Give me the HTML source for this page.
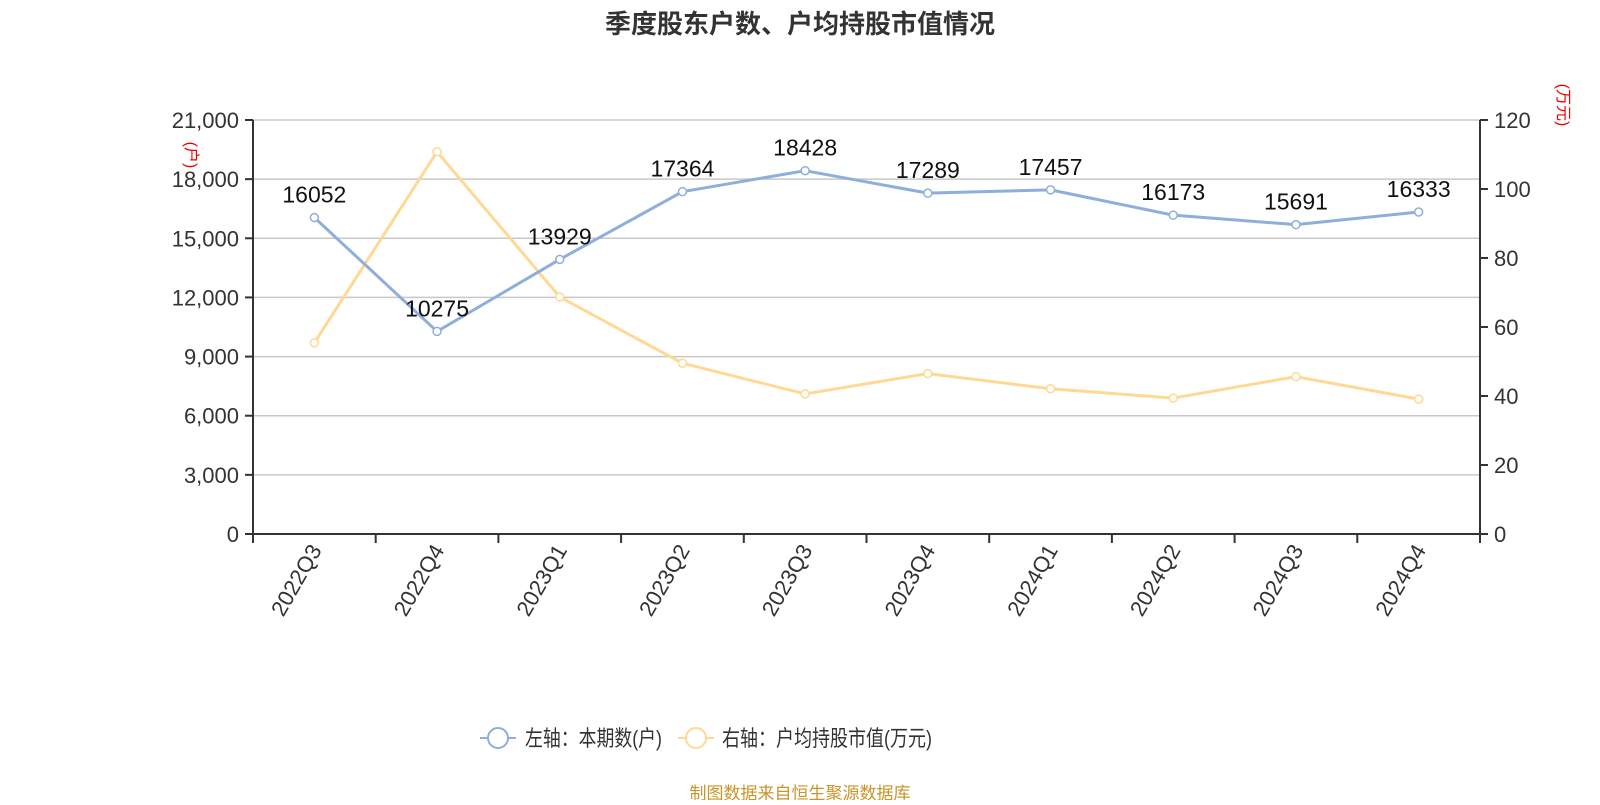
<!DOCTYPE html>
<html><head><meta charset="utf-8"><style>
body{margin:0;background:#fff;}
svg text{font-family:"Liberation Sans","Noto Sans CJK SC",sans-serif;}
</style></head><body>
<svg id="chart" width="1600" height="800" xmlns="http://www.w3.org/2000/svg">
<text x="800" y="33" text-anchor="middle" font-size="26" font-weight="bold" fill="#333">季度股东户数、户均持股市值情况</text>
<g id="grid"></g><g id="axes"></g><g id="series"></g>
<text transform="translate(186,155) rotate(90)" text-anchor="middle" font-size="16" fill="#e00">(户)</text>
<text transform="translate(1558,105) rotate(90)" text-anchor="middle" font-size="16" fill="#e00">(万元)</text>
<g>
<g>
<line x1="480" y1="738" x2="516" y2="738" stroke="#8eaedb" stroke-width="2"/><circle cx="498" cy="738" r="10" fill="#fff" stroke="#8eaedb" stroke-width="2"/>
<text x="525" y="746" font-size="22" fill="#333" textLength="137" lengthAdjust="spacingAndGlyphs">左轴：本期数(户)</text></g>
<g>
<line x1="678" y1="738" x2="714" y2="738" stroke="#ffd994" stroke-width="2"/><circle cx="696" cy="738" r="10" fill="#fff" stroke="#ffd994" stroke-width="2"/>
<text x="722" y="746" font-size="22" fill="#333" textLength="210" lengthAdjust="spacingAndGlyphs">右轴：户均持股市值(万元)</text></g>
</g>
<text x="800" y="799" text-anchor="middle" font-size="17" fill="#c8952a">制图数据来自恒生聚源数据库</text>
</svg>
<script>
const categories=["2022Q3","2022Q4","2023Q1","2023Q2","2023Q3","2023Q4","2024Q1","2024Q2","2024Q3","2024Q4"];
const holders=[16052,10275,13929,17364,18428,17289,17457,16173,15691,16333];
const avgValue=[55.4,110.8,68.7,49.5,40.6,46.5,42.1,39.4,45.6,39.1];
const leftTicks=[0,3000,6000,9000,12000,15000,18000,21000];
const rightTicks=[0,20,40,60,80,100,120];
const NS="http://www.w3.org/2000/svg";
const X0=253,X1=1480,Y0=534,Y1=120;
const band=(X1-X0)/categories.length;
const xPos=i=>X0+band*(i+0.5);
const yL=v=>Y0-(v/21000)*(Y0-Y1);
const yR=v=>Y0-(v/120)*(Y0-Y1);
function mk(tag,attrs,parent,txt){const e=document.createElementNS(NS,tag);for(const k in attrs)e.setAttribute(k,attrs[k]);if(txt!==undefined)e.textContent=txt;parent.appendChild(e);return e;}
const grid=document.getElementById('grid'),axes=document.getElementById('axes'),series=document.getElementById('series');
leftTicks.forEach(t=>{const y=yL(t);
 if(t>0){const g=mk('line',{x1:X0,x2:X1,y1:y,y2:y,stroke:'#c8c8c8','stroke-width':1.5},grid);}
 mk('line',{x1:X0-8,x2:X0,y1:y,y2:y,stroke:'#333','stroke-width':2},axes);
 const l=mk('text',{x:X0-14,y:y+8,'text-anchor':'end','font-size':22,fill:'#333'},axes,t.toLocaleString('en-US'));
 });
rightTicks.forEach(t=>{const y=yR(t);
 mk('line',{x1:X1,x2:X1+8,y1:y,y2:y,stroke:'#333','stroke-width':2},axes);
 const l=mk('text',{x:X1+14,y:y+8,'font-size':22,fill:'#333'},axes,String(t));
 });
mk('line',{x1:X0,x2:X0,y1:Y1,y2:Y0,stroke:'#333','stroke-width':2},axes);
mk('line',{x1:X1,x2:X1,y1:Y1,y2:Y0,stroke:'#333','stroke-width':2},axes);
mk('line',{x1:X0,x2:X1,y1:Y0,y2:Y0,stroke:'#333','stroke-width':2},axes);
for(let i=0;i<=categories.length;i++){mk('line',{x1:X0+band*i,x2:X0+band*i,y1:Y0,y2:Y0+9,stroke:'#333','stroke-width':2},axes);}
categories.forEach((c,i)=>{const x=xPos(i);
 const l=mk('text',{transform:`translate(${x+8},${Y0+16}) rotate(-60)`,'text-anchor':'end','font-size':22,fill:'#333'},axes,c);
 });
function line(vals,yf,color,name,labels){
 const p=mk('polyline',{points:vals.map((v,i)=>xPos(i)+','+yf(v)).join(' '),fill:'none',stroke:color,'stroke-width':3,'stroke-linejoin':'round'},series);
 
 vals.forEach((v,i)=>{const c=mk('circle',{cx:xPos(i),cy:yf(v),r:4,fill:'#fff',stroke:color,'stroke-width':1.5},series);
  
  if(labels){const t=mk('text',{x:xPos(i),y:yf(v)-15,'text-anchor':'middle','font-size':23,fill:'#111'},series,String(v));
   }});
}
line(avgValue,yR,'#ffd994','avg-value',false);
line(holders,yL,'#8eaedb','holders',true);
</script>
</body></html>
